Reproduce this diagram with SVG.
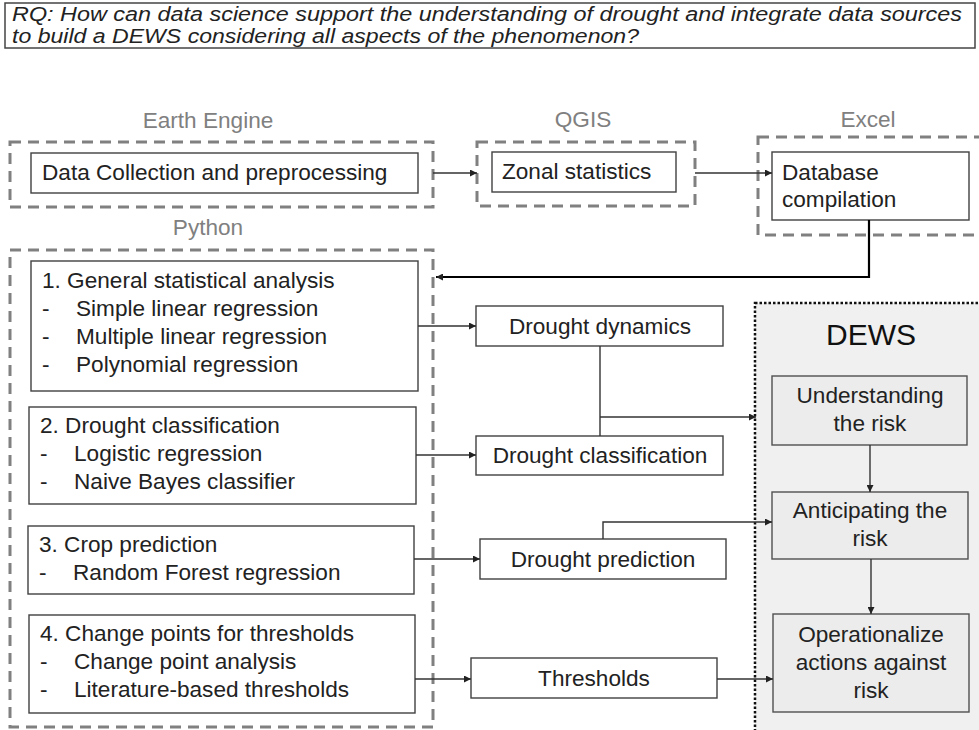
<svg xmlns="http://www.w3.org/2000/svg" width="979" height="730" viewBox="0 0 979 730">
<defs>
<style>
text{font-family:"Liberation Sans",Arial,sans-serif;fill:#222;}
.t{font-size:22.6px;}
.c{text-anchor:middle;}
.rq{font-size:19.5px;font-style:italic;}
.lbl{font-size:22.6px;fill:#808080;text-anchor:middle;}
.grp{fill:none;stroke:#808080;stroke-width:3;stroke-dasharray:11 7;}
.box{fill:#fff;stroke:#404040;stroke-width:1.4;}
.dbox{fill:#ececec;stroke:#505050;stroke-width:1.4;}
.ln{fill:none;stroke:#333;stroke-width:1.4;}
</style>
<marker id="ah" viewBox="0 0 10 10" refX="10" refY="5" markerWidth="8" markerHeight="7" markerUnits="userSpaceOnUse" orient="auto"><path d="M0,0L10,5L0,10z" fill="#222"/></marker>
</defs>
<g id="rq">
<rect x="5" y="3" width="970" height="45" fill="#fff" stroke="#444" stroke-width="1.5"/>
<text class="rq" x="12" y="21" textLength="950" lengthAdjust="spacingAndGlyphs">RQ: How can data science support the understanding of drought and integrate data sources</text>
<text class="rq" x="12" y="43" textLength="627" lengthAdjust="spacingAndGlyphs">to build a DEWS considering all aspects of the phenomenon?</text>
</g>
<g id="earth-engine">
<text class="lbl" x="208" y="128">Earth Engine</text>
<rect class="grp" x="10" y="142" width="423" height="65"/>
<rect class="box" x="31" y="153" width="387" height="40"/>
<text class="t" x="42" y="180">Data Collection and preprocessing</text>
</g>
<g id="qgis">
<text class="lbl" x="583" y="127">QGIS</text>
<rect class="grp" x="477" y="142" width="218" height="64"/>
<rect class="box" x="492" y="152" width="184" height="40"/>
<text class="t" x="502" y="179">Zonal statistics</text>
</g>
<g id="excel">
<text class="lbl" x="868" y="127">Excel</text>
<rect class="grp" x="758" y="137" width="230" height="98"/>
<rect class="box" x="772" y="152" width="197" height="68"/>
<text class="t" x="782" y="180">Database</text>
<text class="t" x="782" y="207">compilation</text>
</g>
<g id="python">
<text class="lbl" x="208" y="235">Python</text>
<rect class="grp" x="10" y="250" width="423" height="477"/>
</g>
<g id="box1">
<rect class="box" x="31" y="261" width="387" height="130"/>
<text class="t" x="42" y="288">1. General statistical analysis</text>
<text class="t" x="42" y="316">-</text><text class="t" x="76" y="316">Simple linear regression</text>
<text class="t" x="42" y="344">-</text><text class="t" x="76" y="344">Multiple linear regression</text>
<text class="t" x="42" y="372">-</text><text class="t" x="76" y="372">Polynomial regression</text>
</g>
<g id="box2">
<rect class="box" x="29" y="407" width="387" height="97"/>
<text class="t" x="40" y="433">2. Drought classification</text>
<text class="t" x="40" y="461">-</text><text class="t" x="74" y="461">Logistic regression</text>
<text class="t" x="40" y="489">-</text><text class="t" x="74" y="489">Naive Bayes classifier</text>
</g>
<g id="box3">
<rect class="box" x="28" y="526" width="386" height="68"/>
<text class="t" x="39" y="552">3. Crop prediction</text>
<text class="t" x="39" y="580">-</text><text class="t" x="73" y="580">Random Forest regression</text>
</g>
<g id="box4">
<rect class="box" x="29" y="615" width="386" height="98"/>
<text class="t" x="40" y="641">4. Change points for thresholds</text>
<text class="t" x="40" y="669">-</text><text class="t" x="74" y="669">Change point analysis</text>
<text class="t" x="40" y="697">-</text><text class="t" x="74" y="697">Literature-based thresholds</text>
</g>
<g id="drought-dynamics">
<rect class="box" x="476" y="306" width="247" height="40"/>
<text class="t c" x="600" y="334">Drought dynamics</text>
</g>
<g id="drought-classification">
<rect class="box" x="476" y="436" width="247" height="39"/>
<text class="t c" x="600" y="463">Drought classification</text>
</g>
<g id="drought-prediction">
<rect class="box" x="480" y="539" width="246" height="40"/>
<text class="t c" x="603" y="567">Drought prediction</text>
</g>
<g id="thresholds">
<rect class="box" x="471" y="658" width="246" height="40"/>
<text class="t c" x="594" y="686">Thresholds</text>
</g>
<g id="dews">
<rect x="755" y="303" width="240" height="440" fill="#f0f0f0" stroke="#111" stroke-width="2.5" stroke-dasharray="2.5 2"/>
<text class="c" x="871" y="345" style="font-size:30px;fill:#111">DEWS</text>
</g>
<g id="understanding">
<rect class="dbox" x="772" y="376" width="195" height="69"/>
<text class="t c" x="870" y="403">Understanding</text>
<text class="t c" x="870" y="431">the risk</text>
</g>
<g id="anticipating">
<rect class="dbox" x="772" y="492" width="196" height="67"/>
<text class="t c" x="870" y="518">Anticipating the</text>
<text class="t c" x="870" y="546">risk</text>
</g>
<g id="operationalize">
<rect class="dbox" x="773" y="614" width="196" height="98"/>
<text class="t c" x="871" y="642">Operationalize</text>
<text class="t c" x="871" y="670">actions against</text>
<text class="t c" x="871" y="698">risk</text>
</g>
<g id="connectors">
<path class="ln" d="M433,173H477" marker-end="url(#ah)"/>
<path class="ln" d="M695,173H772" marker-end="url(#ah)"/>
<path d="M869,220V277H436" fill="none" stroke="#000" stroke-width="2.2" marker-end="url(#ah)"/>
<path class="ln" d="M418,326H476" marker-end="url(#ah)"/>
<path class="ln" d="M416,455H476" marker-end="url(#ah)"/>
<path class="ln" d="M600,346V436"/>
<path class="ln" d="M600,417H756" marker-end="url(#ah)"/>
<path class="ln" d="M414,559H480" marker-end="url(#ah)"/>
<path class="ln" d="M603,539V522H772" marker-end="url(#ah)"/>
<path class="ln" d="M415,679H471" marker-end="url(#ah)"/>
<path class="ln" d="M717,679H773" marker-end="url(#ah)"/>
<path class="ln" d="M870,445V492" marker-end="url(#ah)"/>
<path class="ln" d="M871,559V614" marker-end="url(#ah)"/>
</g>
</svg>
